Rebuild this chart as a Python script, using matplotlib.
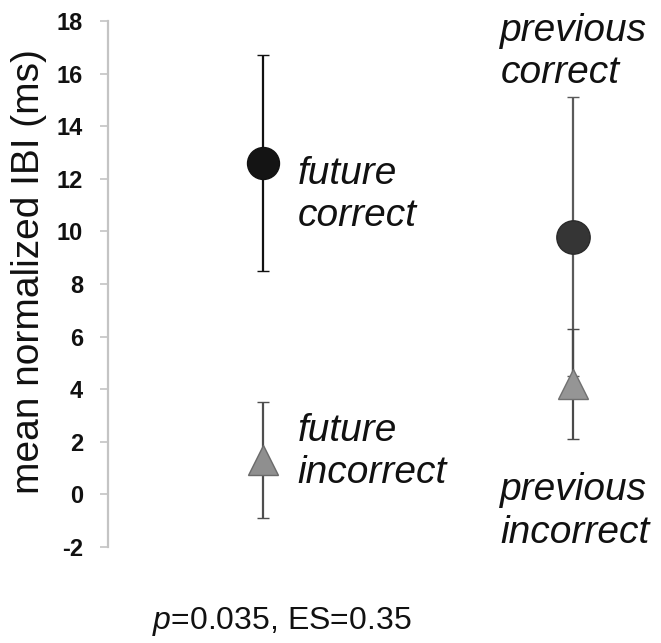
import numpy as np
import matplotlib as mpl
import matplotlib.pyplot as plt

mpl.rcParams["font.family"] = ["Liberation Sans", "DejaVu Sans"]
mpl.rcParams["mathtext.fontset"] = "custom"
mpl.rcParams["mathtext.it"] = "Liberation Sans:italic"
mpl.rcParams["mathtext.rm"] = "Liberation Sans"
mpl.rcParams["axes.unicode_minus"] = False

# mean normalized IBI (ms) and error half-widths
conditions = ["future correct", "future incorrect", "previous correct", "previous incorrect"]
xpos = [1, 1, 3, 3]
means = [12.6, 1.3, 9.8, 4.2]
errors = [4.1, 2.2, 5.3, 2.1]
markers = ["o", "^", "o", "^"]
face = ["#141414", "#8f8f8f", "#353535", "#959595"]
edge = ["#111111", "#6a6a6a", "#2a2a2a", "#707070"]
barc = ["#111111", "#4e4e4e", "#5a5a5a", "#4a4a4a"]
msize = [23, 21, 24, 21]
labels = ["future\ncorrect", "future\nincorrect", "previous\ncorrect", "previous\nincorrect"]
# label offsets (points) from each marker
offsets = [(25, -23), (25, 6), (-52, 133), (-52, -92)]

fig = plt.figure(figsize=(6.61, 6.43), dpi=100)
ax = fig.add_axes([108 / 661, 1 - 547 / 643, 542 / 661, 526 / 643])

for i in range(len(conditions)):
    ax.errorbar(xpos[i], means[i], yerr=errors[i], fmt=markers[i], ms=msize[i],
                mfc=face[i], mec=edge[i], mew=1.0, ecolor=barc[i],
                elinewidth=1.6, capsize=4, capthick=1.6, zorder=3 + i)
    ax.annotate(labels[i], xy=(xpos[i], means[i]), xytext=offsets[i],
                textcoords="offset points", ha="left", va="center",
                fontsize=28, style="italic", color="#111111",
                linespacing=1.24, annotation_clip=False)

ax.set_xlim(0, 3.5)
ax.set_ylim(-2, 18)
ax.set_yticks(np.arange(-2, 19, 2))
ax.set_xticks([])
for s in ["top", "right", "bottom"]:
    ax.spines[s].set_visible(False)
ax.spines["left"].set_color("#c4c4c4")
ax.spines["left"].set_linewidth(1.6)
ax.tick_params(axis="y", direction="out", length=6, width=1.2, color="#c4c4c4",
               labelsize=17, pad=12, labelcolor="#111111")
for t in ax.get_yticklabels():
    t.set_fontweight("bold")
ax.set_ylabel("mean normalized IBI (ms)", fontsize=28, color="#111111")
ax.yaxis.set_label_coords(-0.112, 0.523)

fig.text(282 / 661, 1 - 622 / 643, "$p$=0.035, ES=0.35", ha="center", va="center",
         fontsize=23, color="#111111")

plt.savefig("out.png", dpi=100)
